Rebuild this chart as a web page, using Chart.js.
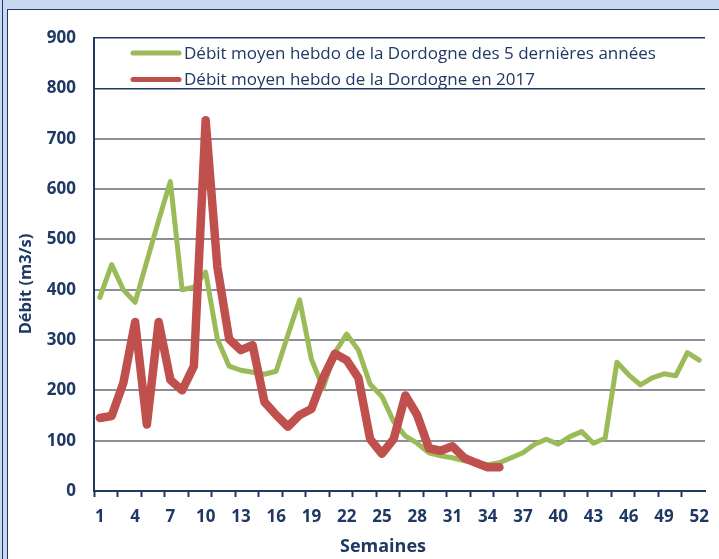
<!DOCTYPE html>
<html>
<head>
<meta charset="utf-8">
<script src="https://cdn.jsdelivr.net/npm/chart.js@4/dist/chart.umd.min.js"></script>
<style>
  html, body { margin: 0; padding: 0; }
  body { width: 719px; height: 559px; background: #c6d9f1; position: relative; overflow: hidden; }
  .edge { position: absolute; left: 2px; top: 0; width: 1px; height: 559px; background: #1f3864; }
  .panel { position: absolute; left: 7px; top: 9px; right: 0; bottom: 0; background: #fff;
           border-left: 1px solid #1f3864; border-top: 1px solid #1f3864; }
  .box { position: absolute; left: 0; top: 0; width: 711px; height: 549px; }
</style>
</head>
<body>
<div class="edge"></div>
<div class="panel">
  <div class="box"><canvas id="myChart"></canvas></div>
</div>
<script>
// semaines 1..52
const weeks = Array.from({ length: 52 }, (_, i) => i + 1);
const shownTicks = [1, 4, 7, 10, 13, 16, 19, 22, 25, 28, 31, 34, 37, 40, 43, 46, 49, 52];

const seriesNames = [
  "Débit moyen hebdo de la Dordogne des 5 dernières années",
  "Débit moyen hebdo de la Dordogne en 2017",
];

// moyenne des 5 dernières années (m3/s)
const avg5Years = [385, 450, 400, 375, 457, 538, 615, 400, 405, 435,
  302, 248, 240, 236, 232, 238, 310, 380, 262, 205,
  275, 312, 280, 212, 188, 138, 109, 95, 76, 70,
  66, 60, 56, 52, 56, 66, 76, 93, 103, 93,
  108, 118, 95, 105, 256, 231, 211, 225, 233, 229,
  275, 260];

// 2017 (jusqu'à la semaine 35)
const flow2017 = [145, 149, 215, 336, 132, 336, 221, 200, 248, 737,
  445, 302, 280, 290, 177, 151, 128, 151, 163, 225,
  273, 260, 225, 103, 74, 103, 190, 151, 85, 80,
  89, 66, 56, 47, 47];

const navy = "#1f3864";
const gridGray = "#8e8e99";
const green = "#9bbb59";
const red = "#c0504d";

// legend inside the plot + axis titles (placed like the Excel original)
const legendBox = {
  id: "legendBox",
  afterDraw(chart) {
    const { ctx, chartArea } = chart;
    ctx.save();
    chart.data.datasets.forEach((ds, i) => {
      const yRow = chartArea.top + 14.7 + i * 26.6;
      const x0 = chartArea.left + 39;
      ctx.strokeStyle = ds.borderColor;
      ctx.lineWidth = 5;
      ctx.lineCap = "round";
      ctx.beginPath();
      ctx.moveTo(x0, yRow);
      ctx.lineTo(x0 + 46, yRow);
      ctx.stroke();
      ctx.fillStyle = navy;
      ctx.font = "17px 'Open Sans'";
      ctx.textBaseline = "middle";
      ctx.textAlign = "left";
      ctx.fillText(ds.label, x0 + 51, yRow + 1);
    });

    ctx.fillStyle = navy;
    ctx.textAlign = "center";
    ctx.textBaseline = "middle";
    ctx.font = "bold 18px 'Open Sans'";
    ctx.fillText("Semaines", 375, 537);

    ctx.translate(18, 274);
    ctx.rotate(-Math.PI / 2);
    ctx.font = "bold 16.5px 'Open Sans'";
    ctx.fillText("Débit (m3/s)", 0, 0);
    ctx.restore();
  },
};

const initChart = () => {
  const ctx = document.getElementById("myChart").getContext("2d");

  new Chart(ctx, {
    type: "line",
    data: {
      labels: weeks,
      datasets: [
        {
          label: seriesNames[0],
          data: avg5Years,
          borderColor: green,
          backgroundColor: green,
          borderWidth: 5,
          order: 2,
        },
        {
          label: seriesNames[1],
          data: flow2017,
          borderColor: red,
          backgroundColor: red,
          borderWidth: 8.5,
          order: 1,
        },
      ],
    },
    options: {
      responsive: true,
      maintainAspectRatio: false,
      animation: false,
      layout: { padding: { top: 17, right: 11, left: 0, bottom: 0 } },
      elements: {
        point: { radius: 0, hoverRadius: 0 },
        line: { tension: 0, borderJoinStyle: "round", borderCapStyle: "round" },
      },
      plugins: {
        legend: { display: false },
        tooltip: { enabled: false },
      },
      scales: {
        x: {
          offset: true,
          afterFit: (scale) => { scale.height = 68; },
          grid: {
            offset: true,
            drawOnChartArea: false,
            tickLength: 6,
            tickWidth: 2,
            tickColor: (c) => (c.index % 2 === 0 ? navy : "transparent"),
          },
          border: { color: navy, width: 2 },
          ticks: {
            autoSkip: false,
            maxRotation: 0,
            padding: 10,
            color: navy,
            font: { family: "'Open Sans'", size: 17, weight: "bold" },
            callback: (val, idx) => (shownTicks.includes(weeks[idx]) ? weeks[idx] : ""),
          },
        },
        y: {
          min: 0,
          max: 900,
          afterFit: (scale) => { scale.width = 86; },
          grid: {
            drawTicks: false,
            color: (c) => {
              const v = c.tick.value;
              if (v === 0) return "transparent";
              return v >= 800 ? navy : gridGray;
            },
            lineWidth: (c) => (c.tick.value >= 800 ? 1.5 : 2),
          },
          border: { color: navy, width: 2 },
          ticks: {
            stepSize: 100,
            padding: 18,
            color: navy,
            font: { family: "'Open Sans'", size: 17, weight: "bold" },
          },
        },
      },
    },
    plugins: [legendBox],
  });
};

initChart();
</script>
</body>
</html>
